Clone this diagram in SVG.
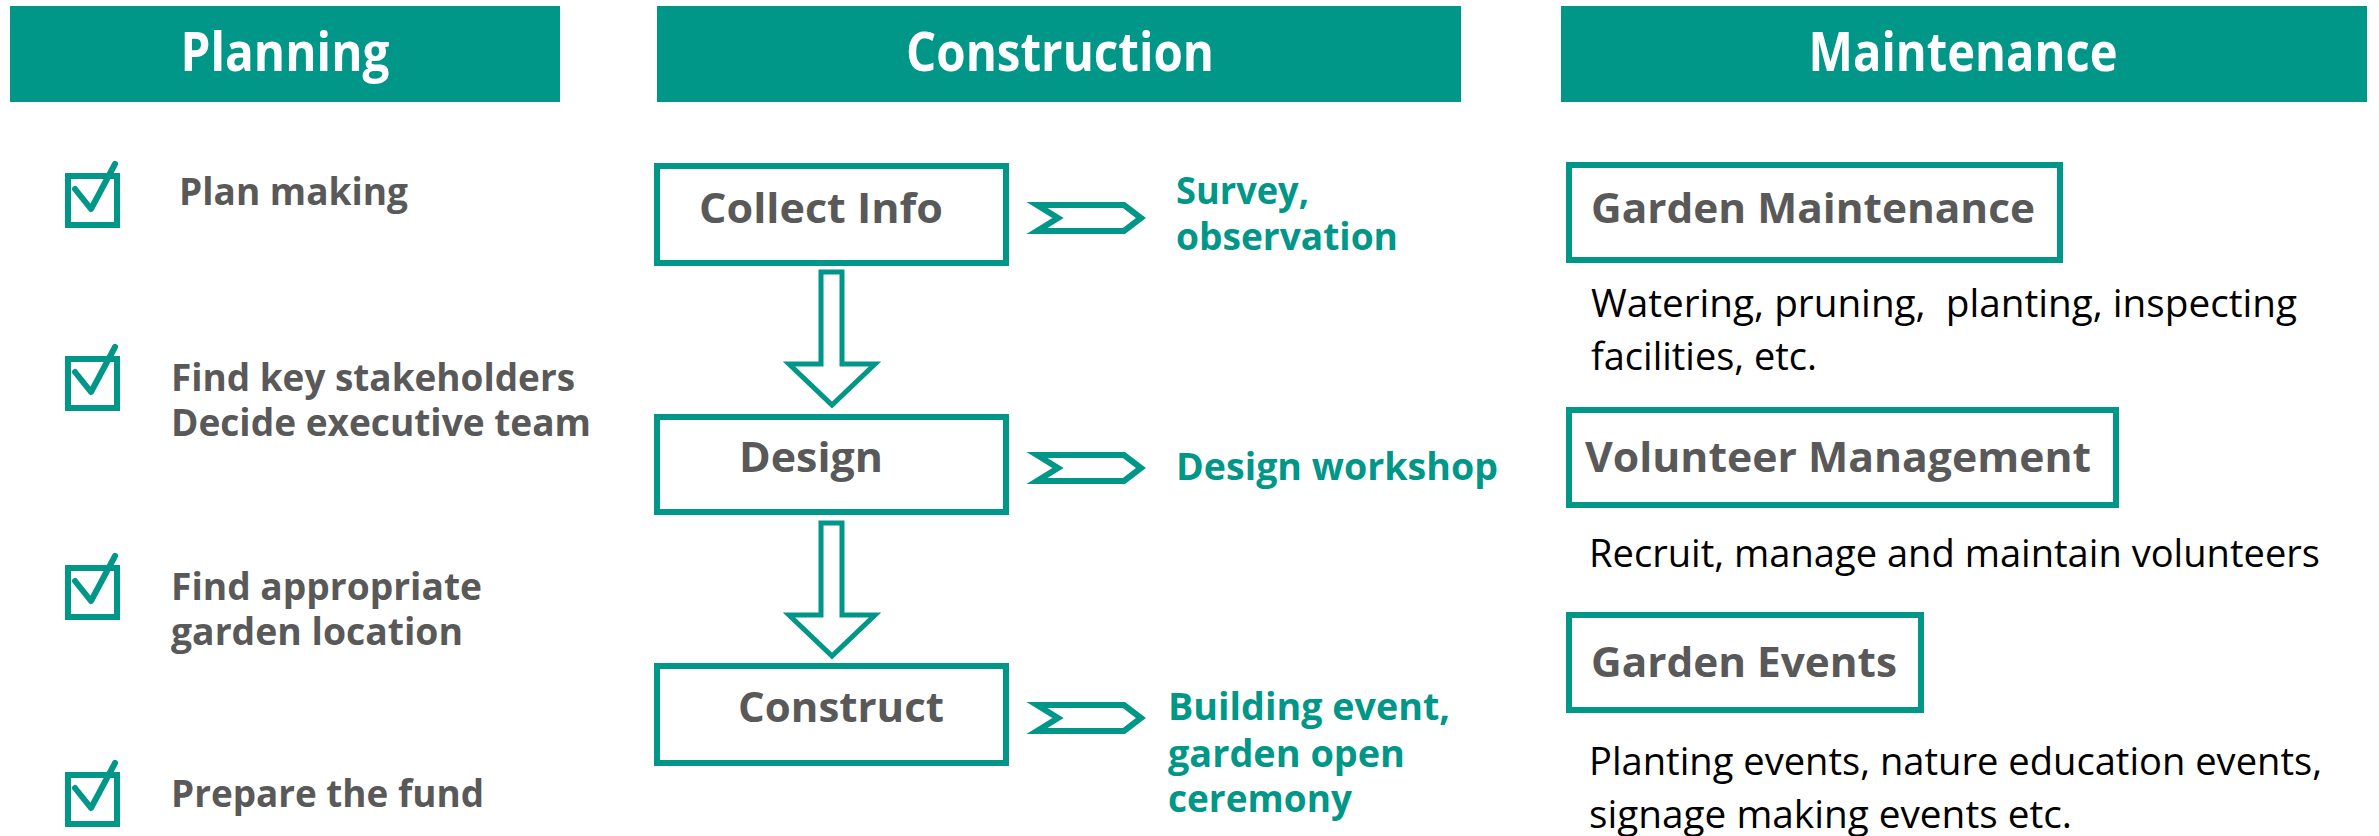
<svg xmlns="http://www.w3.org/2000/svg" xmlns:xlink="http://www.w3.org/1999/xlink" width="2379" height="836" viewBox="0 0 2379 836">
<style>
.bar{fill:#009688}
.hdr{font-family:"Open Sans","Noto Sans",sans-serif;font-weight:bold;font-size:53px;fill:#ffffff;text-anchor:middle}
.box{fill:#ffffff;stroke:#009688;stroke-width:6}
.lbl{font-family:"Open Sans","Noto Sans",sans-serif;font-weight:bold;font-size:42px;fill:#595959}
.item{font-family:"Open Sans","Noto Sans",sans-serif;font-weight:bold;font-size:38px;fill:#595959}
.teal{font-family:"Open Sans","Noto Sans",sans-serif;font-weight:bold;font-size:38px;fill:#009688}
.desc{font-family:"Open Sans","Noto Sans",sans-serif;font-size:38px;fill:#000000;white-space:pre}
.chk{fill:none;stroke:#009688;stroke-width:6}
.mark{fill:none;stroke:#009688;stroke-width:6;stroke-linecap:round;stroke-linejoin:round}
.arr{fill:#ffffff;stroke:#009688;stroke-width:5;stroke-linejoin:miter}
.chev{fill:#ffffff;stroke:#009688;stroke-width:6;stroke-linejoin:miter}
</style>
<defs>
<g id="checkbox">
<rect class="chk" x="68" y="3" width="49" height="49"/>
<path class="mark" d="M75,16 L91,36 L115,-9"/>
</g>
<path id="chevron" class="chev" d="M1037,-13 L1124,-13 L1141,0 L1124,13 L1037,13 L1058,0 Z"/>
</defs>

<g id="header-planning">
<rect class="bar" x="10" y="6" width="550" height="96"/>
<text class="hdr" x="285" y="71" textLength="209" lengthAdjust="spacingAndGlyphs">Planning</text>
</g>
<g id="header-construction">
<rect class="bar" x="657" y="6" width="804" height="96"/>
<text class="hdr" x="1060" y="71" textLength="308" lengthAdjust="spacingAndGlyphs">Construction</text>
</g>
<g id="header-maintenance">
<rect class="bar" x="1561" y="6" width="806" height="96"/>
<text class="hdr" x="1963" y="71" textLength="309" lengthAdjust="spacingAndGlyphs">Maintenance</text>
</g>

<g id="plan-1">
<use xlink:href="#checkbox" href="#checkbox" transform="translate(0,173)"/>
<text class="item" x="179" y="205" textLength="229" lengthAdjust="spacingAndGlyphs">Plan making</text>
</g>
<g id="plan-2">
<use xlink:href="#checkbox" href="#checkbox" transform="translate(0,356)"/>
<text class="item" x="171" y="391" textLength="404" lengthAdjust="spacingAndGlyphs">Find key stakeholders</text>
<text class="item" x="171" y="436" textLength="420" lengthAdjust="spacingAndGlyphs">Decide executive team</text>
</g>
<g id="plan-3">
<use xlink:href="#checkbox" href="#checkbox" transform="translate(0,565)"/>
<text class="item" x="171" y="600" textLength="311" lengthAdjust="spacingAndGlyphs">Find appropriate</text>
<text class="item" x="171" y="645" textLength="292" lengthAdjust="spacingAndGlyphs">garden location</text>
</g>
<g id="plan-4">
<use xlink:href="#checkbox" href="#checkbox" transform="translate(0,772)"/>
<text class="item" x="171" y="807" textLength="313" lengthAdjust="spacingAndGlyphs">Prepare the fund</text>
</g>

<g id="collect-info">
<rect class="box" x="657" y="166" width="349" height="97"/>
<text class="lbl" x="699" y="223" textLength="244" lengthAdjust="spacingAndGlyphs">Collect Info</text>
</g>
<g id="design">
<rect class="box" x="657" y="417" width="349" height="95"/>
<text class="lbl" x="739" y="472" textLength="144" lengthAdjust="spacingAndGlyphs">Design</text>
</g>
<g id="construct">
<rect class="box" x="657" y="666" width="349" height="97"/>
<text class="lbl" x="738" y="722" textLength="206" lengthAdjust="spacingAndGlyphs">Construct</text>
</g>

<g id="survey">
<text class="teal" x="1176" y="204" textLength="133" lengthAdjust="spacingAndGlyphs">Survey,</text>
<text class="teal" x="1176" y="250" textLength="222" lengthAdjust="spacingAndGlyphs">observation</text>
</g>
<g id="design-workshop">
<text class="teal" x="1176" y="480" textLength="322" lengthAdjust="spacingAndGlyphs">Design workshop</text>
</g>
<g id="building-event">
<text class="teal" x="1168" y="720" textLength="282" lengthAdjust="spacingAndGlyphs">Building event,</text>
<text class="teal" x="1168" y="767" textLength="237" lengthAdjust="spacingAndGlyphs">garden open</text>
<text class="teal" x="1168" y="812" textLength="184" lengthAdjust="spacingAndGlyphs">ceremony</text>
</g>

<g id="garden-maintenance">
<rect class="box" x="1569" y="165" width="491" height="95"/>
<text class="lbl" x="1591" y="223" textLength="444" lengthAdjust="spacingAndGlyphs">Garden Maintenance</text>
<text class="desc" x="1591" y="317" textLength="706" lengthAdjust="spacingAndGlyphs">Watering, pruning,  planting, inspecting</text>
<text class="desc" x="1591" y="370" textLength="226" lengthAdjust="spacingAndGlyphs">facilities, etc.</text>
</g>
<g id="volunteer-management">
<rect class="box" x="1569" y="410" width="547" height="95"/>
<text class="lbl" x="1585" y="472" textLength="506" lengthAdjust="spacingAndGlyphs">Volunteer Management</text>
<text class="desc" x="1589" y="567" textLength="731" lengthAdjust="spacingAndGlyphs">Recruit, manage and maintain volunteers</text>
</g>
<g id="garden-events">
<rect class="box" x="1569" y="615" width="352" height="95"/>
<text class="lbl" x="1591" y="677" textLength="306" lengthAdjust="spacingAndGlyphs">Garden Events</text>
<text class="desc" x="1589" y="775" textLength="733" lengthAdjust="spacingAndGlyphs">Planting events, nature education events,</text>
<text class="desc" x="1589" y="828" textLength="483" lengthAdjust="spacingAndGlyphs">signage making events etc.</text>
</g>

<g id="connectors">
<path class="arr" d="M821,272 L842,272 L842,364 L875,364 L832,405 L789,364 L821,364 Z"/>
<path class="arr" d="M821,523 L842,523 L842,615 L875,615 L832,656 L789,615 L821,615 Z"/>
<use xlink:href="#chevron" href="#chevron" transform="translate(0,218)"/>
<use xlink:href="#chevron" href="#chevron" transform="translate(0,468)"/>
<use xlink:href="#chevron" href="#chevron" transform="translate(0,718)"/>
</g>
</svg>
